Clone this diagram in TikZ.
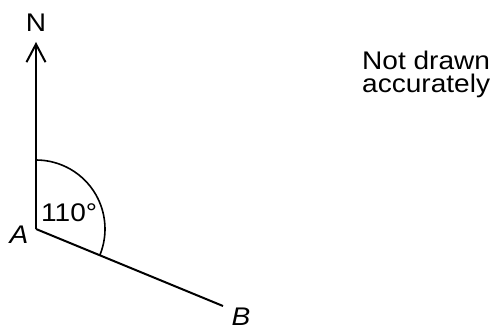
\documentclass[tikz,border=0pt]{standalone}
\usepackage{fontspec}
\setmainfont{Liberation Sans}[FakeStretch=1.1]
\usetikzlibrary{arrows.meta,positioning}

\begin{document}
\begin{tikzpicture}[x=1pt,y=1pt,
  seg/.style={line width=2pt},
  lbl/.style={font=\fontsize{25.5}{23}\selectfont,inner sep=0pt},
  >={Straight Barb[length=18pt,width=19pt]}
]
\useasboundingbox (0,0) rectangle (496,329);
% points of the bearing
\coordinate (A) at (36,100);
\coordinate (Ntip) at (36,287);
\coordinate (B) at (223,23);

\draw[seg,->] (A) -- (Ntip);
\draw[seg] (A) -- (B);
\draw[line width=1.6pt] (A) ++(90:69) arc[start angle=90,end angle=-22,radius=69];

\node[lbl,anchor=base] (north) at (36,297) {N};
\node[lbl,anchor=base] (labA) at (19,85) {\itshape A};
\node[lbl,anchor=base] (labB) at (241,3) {\itshape B};
\node[lbl,anchor=base west] (angle) at (41,107) {110°};
\node[lbl,anchor=base west,align=left] (note) at (362,236) {Not drawn\\accurately};
\end{tikzpicture}
\end{document}
